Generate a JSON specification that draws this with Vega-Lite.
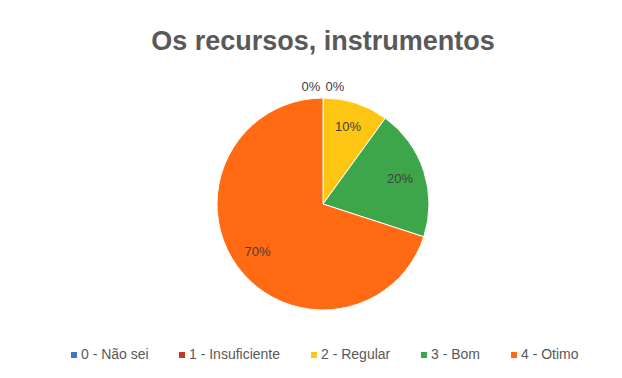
{
  "$schema": "https://vega.github.io/schema/vega-lite/v6.json",
  "width": 598,
  "height": 252,
  "autosize": "none",
  "padding": {"left": 24, "top": 78, "right": 0, "bottom": 48},
  "background": "#ffffff",
  "title": {
    "text": "Os recursos, instrumentos",
    "fontSize": 27,
    "font": "Liberation Sans",
    "fontWeight": "bold",
    "color": "#595959",
    "anchor": "middle",
    "offset": 22
  },
  "config": {
    "view": {"stroke": null},
    "font": "Liberation Sans"
  },
  "data": {
    "values": [
      {"categoria": "0 - Não sei", "valor": 0},
      {"categoria": "1 - Insuficiente", "valor": 0},
      {"categoria": "2 - Regular", "valor": 0.1},
      {"categoria": "3 - Bom", "valor": 0.2},
      {"categoria": "4 - Otimo", "valor": 0.7}
    ]
  },
  "encoding": {
    "theta": {"field": "valor", "type": "quantitative", "stack": true},
    "color": {
      "field": "categoria",
      "type": "nominal",
      "scale": {
        "domain": ["0 - Não sei", "1 - Insuficiente", "2 - Regular", "3 - Bom", "4 - Otimo"],
        "range": ["#4472C4", "#C0392B", "#FFC513", "#3DA64A", "#FF6A13"]
      },
      "legend": {
        "title": null,
        "orient": "none",
        "direction": "horizontal",
        "legendX": 43,
        "legendY": 270,
        "symbolType": "square",
        "symbolSize": 36,
        "symbolStrokeWidth": 0,
        "labelFontSize": 14,
        "labelFont": "Liberation Sans",
        "labelColor": "#595959",
        "labelOffset": 0,
        "columnPadding": 26
      }
    }
  },
  "layer": [
    {
      "mark": {"type": "arc", "outerRadius": 106, "stroke": "#ffffff", "strokeWidth": 1}
    },
    {
      "transform": [{"filter": "datum.valor > 0"}],
      "mark": {"type": "text", "radius": 81, "fontSize": 13, "font": "Liberation Sans"},
      "encoding": {
        "text": {"field": "valor", "type": "quantitative", "format": ".0%"},
        "color": {"value": "#404040"}
      }
    },
    {
      "transform": [{"filter": "datum.categoria == '0 - Não sei'"}],
      "mark": {"type": "text", "radius": 117, "dx": -12, "fontSize": 13, "font": "Liberation Sans"},
      "encoding": {
        "text": {"field": "valor", "type": "quantitative", "format": ".0%"},
        "color": {"value": "#404040"}
      }
    },
    {
      "transform": [{"filter": "datum.categoria == '1 - Insuficiente'"}],
      "mark": {"type": "text", "radius": 117, "dx": 12, "fontSize": 13, "font": "Liberation Sans"},
      "encoding": {
        "text": {"field": "valor", "type": "quantitative", "format": ".0%"},
        "color": {"value": "#404040"}
      }
    }
  ]
}
